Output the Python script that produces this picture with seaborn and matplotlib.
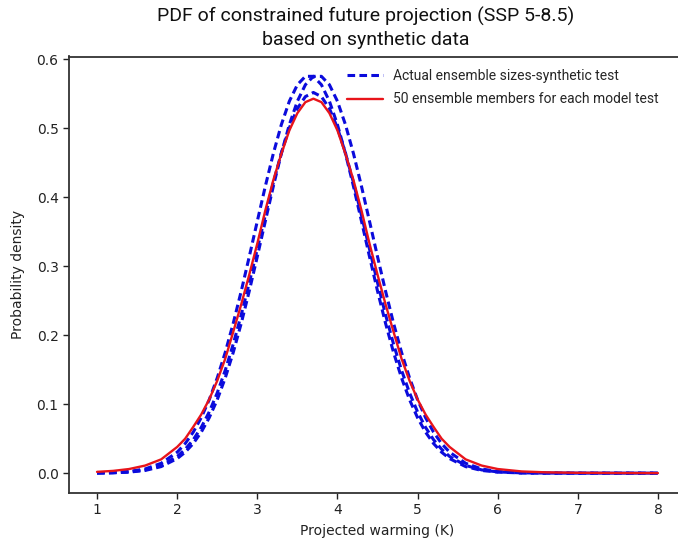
import matplotlib
matplotlib.use("Agg")
import matplotlib.pyplot as plt
import seaborn as sns
import pandas as pd

# Projected warming grid (K)
warming = [1.0, 1.2, 1.4, 1.6, 1.8,
           2.0, 2.1, 2.2, 2.3, 2.4, 2.5, 2.6, 2.7, 2.8, 2.9,
           3.0, 3.1, 3.2, 3.3, 3.4, 3.5, 3.6, 3.7, 3.8, 3.9,
           4.0, 4.1, 4.2, 4.3, 4.4, 4.5, 4.6, 4.7, 4.8, 4.9,
           5.0, 5.1, 5.2, 5.3, 5.4,
           5.6, 5.8, 6.0, 6.3, 6.6, 7.0, 7.5, 8.0]

# Constrained PDFs, actual ensemble sizes (synthetic tests)
pdf_actual_a = [0.0003, 0.0009, 0.0024, 0.0061, 0.0143,
                0.0304, 0.0429, 0.0594, 0.0804, 0.1065, 0.1381, 0.1752, 0.2175, 0.2642, 0.3141,
                0.3654, 0.4160, 0.4635, 0.5054, 0.5393, 0.5632, 0.5754, 0.5754, 0.5632, 0.5393,
                0.5054, 0.4635, 0.4160, 0.3654, 0.3141, 0.2642, 0.2175, 0.1752, 0.1381, 0.1065,
                0.0804, 0.0594, 0.0429, 0.0304, 0.0211,
                0.0095, 0.0039, 0.0015, 0.0003, 0.0001, 0.0, 0.0, 0.0]
pdf_actual_b = [0.0002, 0.0005, 0.0015, 0.0039, 0.0095,
                0.0211, 0.0304, 0.0429, 0.0594, 0.0804, 0.1065, 0.1381, 0.1752, 0.2175, 0.2642,
                0.3141, 0.3654, 0.4160, 0.4635, 0.5054, 0.5393, 0.5632, 0.5754, 0.5754, 0.5632,
                0.5393, 0.5054, 0.4635, 0.4160, 0.3654, 0.3141, 0.2642, 0.2175, 0.1752, 0.1381,
                0.1065, 0.0804, 0.0594, 0.0429, 0.0304,
                0.0143, 0.0061, 0.0024, 0.0005, 0.0001, 0.0, 0.0, 0.0]
pdf_actual_c = [0.0002, 0.0007, 0.0018, 0.0047, 0.0112,
                0.0242, 0.0347, 0.0484, 0.0663, 0.0888, 0.1164, 0.1492, 0.1872, 0.2299, 0.2763,
                0.3250, 0.3740, 0.4213, 0.4643, 0.5008, 0.5287, 0.5460, 0.5520, 0.5460, 0.5287,
                0.5008, 0.4643, 0.4213, 0.3740, 0.3250, 0.2763, 0.2299, 0.1872, 0.1492, 0.1164,
                0.0888, 0.0663, 0.0484, 0.0347, 0.0242,
                0.0112, 0.0047, 0.0018, 0.0004, 0.0001, 0.0, 0.0, 0.0]

# Constrained PDF, 50 ensemble members for each model
pdf_fifty = [0.0019, 0.0033, 0.0060, 0.0110, 0.0200,
             0.0380, 0.0500, 0.0670, 0.0850, 0.1070, 0.1340, 0.1660, 0.2050, 0.2450, 0.2880,
             0.3330, 0.3810, 0.4250, 0.4630, 0.4970, 0.5220, 0.5380, 0.5430, 0.5380, 0.5220,
             0.4970, 0.4630, 0.4250, 0.3810, 0.3330, 0.2880, 0.2450, 0.2050, 0.1660, 0.1340,
             0.1070, 0.0850, 0.0670, 0.0500, 0.0380,
             0.0200, 0.0110, 0.0060, 0.0025, 0.0012, 0.0005, 0.0002, 0.0001]

label_actual = "Actual ensemble sizes-synthetic test"
label_fifty = "50 ensemble members for each model test"

sns.set_style("ticks")
plt.rcParams["font.family"] = ["DejaVu Sans"]

fig = plt.figure(figsize=(6.78, 5.40), dpi=100)
ax = fig.add_axes([69 / 678, 47 / 540, 617 / 678, 436.5 / 540])

blue = "#0b0bdc"
red = "#e8141a"
dash = (0, (2.5, 1.4))

for i, vals in enumerate([pdf_actual_a, pdf_actual_b, pdf_actual_c]):
    df = pd.DataFrame({"warming": warming, "pdf": vals})
    sns.lineplot(data=df, x="warming", y="pdf", ax=ax, color=blue,
                 linestyle=dash, linewidth=2.2,
                 label=label_actual if i == 0 else None)

df_fifty = pd.DataFrame({"warming": warming, "pdf": pdf_fifty})
sns.lineplot(data=df_fifty, x="warming", y="pdf", ax=ax, color=red,
             linewidth=1.7, label=label_fifty)

ax.set_xticks([1, 2, 3, 4, 5, 6, 7, 8])
ax.set_yticks([0.0, 0.1, 0.2, 0.3, 0.4, 0.5, 0.6])
ax.set_yticklabels(["0.0", "0.1", "0.2", "0.3", "0.4", "0.5", "0.6"])
ax.tick_params(labelsize=10, colors="#222222", length=4, width=1.0)
for side in ["left", "bottom", "top", "right"]:
    ax.spines[side].set_visible(True)
    ax.spines[side].set_color("#333333")
    ax.spines[side].set_linewidth(1.3)

ax.set_xlabel("Projected warming (K)", fontsize=10, color="#222222", labelpad=5)
ax.set_ylabel("Probability density", fontsize=10, color="#222222", labelpad=8)

ax.set_title("PDF of constrained future projection (SSP 5-8.5)\nbased on synthetic data",
             fontsize=14, family="Roboto", color="#111111", linespacing=1.35, pad=8,
             x=0.481)

leg = ax.legend(loc="upper left", bbox_to_anchor=(0.4506, 0.972), frameon=False,
                borderaxespad=0, borderpad=0, handlelength=2.6, handletextpad=0.7,
                labelspacing=0.7, prop={"family": "Roboto", "size": 10})

fig.savefig("out.png", dpi=100)
